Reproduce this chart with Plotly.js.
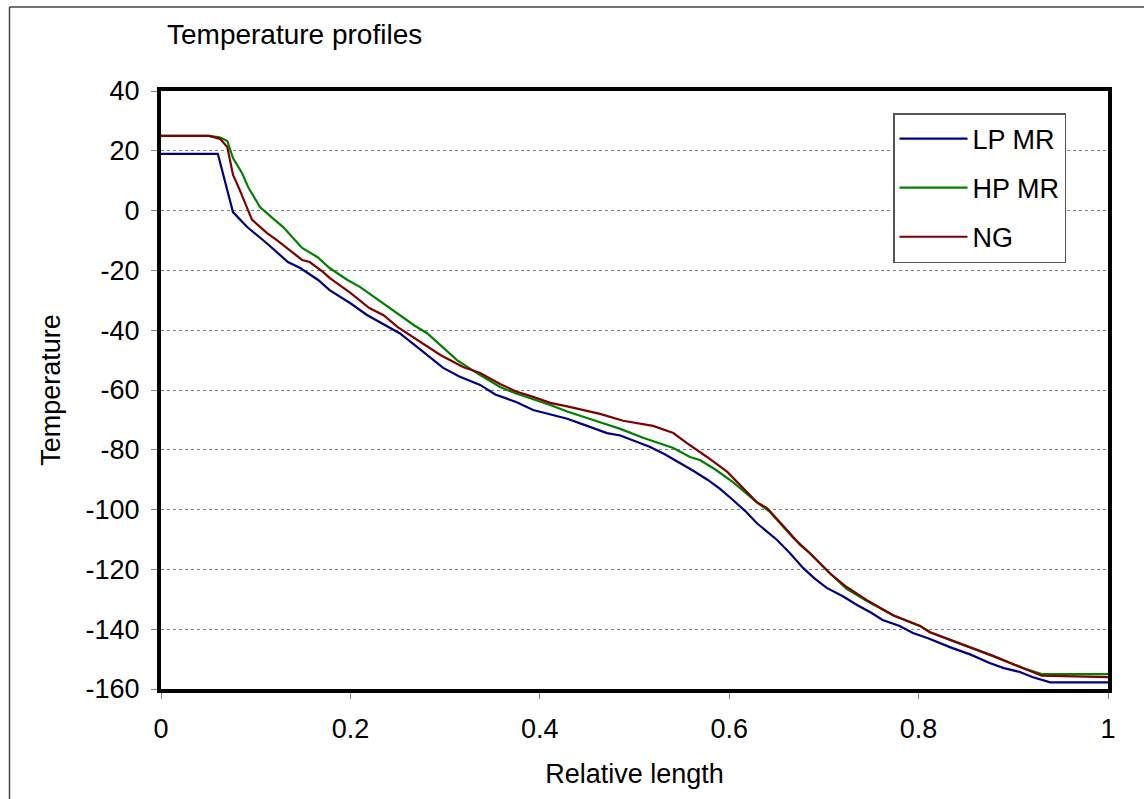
<!DOCTYPE html>
<html>
<head>
<meta charset="utf-8">
<script src="https://cdn.plot.ly/plotly-3.0.1.min.js"></script>
<style>html,body{margin:0;padding:0;background:#fff;}#chart{width:1144px;height:799px;}</style>
</head>
<body>
<div id="chart"></div>
<script>
// ---- data ----
const lpmrX = [0, 0.06, 0.076, 0.091, 0.112, 0.134, 0.147, 0.166, 0.178, 0.2, 0.2175, 0.235, 0.252, 0.268, 0.284, 0.298, 0.315, 0.337, 0.353, 0.375, 0.393, 0.414, 0.429, 0.45, 0.471, 0.485, 0.5, 0.516, 0.532, 0.548, 0.562, 0.577, 0.59, 0.604, 0.617, 0.629, 0.65, 0.664, 0.678, 0.69, 0.703, 0.72, 0.735, 0.75, 0.762, 0.78, 0.794, 0.81, 0.833, 0.855, 0.875, 0.89, 0.907, 0.92, 0.939, 1.0];
const lpmrY = [19, 19, -0.5, -5.5, -11, -17.2, -19.2, -23.2, -26.6, -31, -34.9, -38, -41, -45, -49, -52.6, -55.5, -58.3, -61.5, -64, -66.7, -68.5, -69.6, -72, -74.4, -75.2, -77, -79, -81.5, -84.4, -87, -90, -93, -96.8, -100.5, -104.5, -110, -114.5, -119.5, -123, -126.2, -129, -131.9, -134.5, -136.9, -138.9, -141.3, -143, -146, -148.5, -151.3, -153, -154.3, -156, -157.8, -157.8];

const hpmrX = [0, 0.05, 0.062, 0.07, 0.076, 0.0855, 0.092, 0.1045, 0.116, 0.129, 0.149, 0.165, 0.178, 0.197, 0.21, 0.23, 0.252, 0.268, 0.281, 0.297, 0.3126, 0.337, 0.358, 0.375, 0.393, 0.411, 0.429, 0.456, 0.4636, 0.485, 0.509, 0.541, 0.5586, 0.569, 0.585, 0.604, 0.629, 0.643, 0.667, 0.685, 0.706, 0.724, 0.745, 0.773, 0.8015, 0.812, 0.8405, 0.879, 0.91, 0.93, 1.0];
const hpmrY = [25, 25, 24.5, 23.3, 17.6, 12.6, 7.9, 1.2, -2, -5.5, -12.5, -15.5, -19.2, -23.2, -25.5, -30, -34.9, -38.5, -41, -45.5, -50, -55, -59, -61.2, -63, -65, -67.2, -70.2, -70.8, -73, -76, -79.4, -82.4, -83.4, -86.5, -90.8, -97.5, -100.8, -109.2, -114.5, -121.2, -126.5, -130.5, -135.3, -138.9, -141, -144.3, -149, -153, -155, -155];

const ngX = [0, 0.051, 0.0623, 0.07, 0.076, 0.083, 0.096, 0.112, 0.122, 0.135, 0.149, 0.157, 0.171, 0.178, 0.2, 0.22, 0.235, 0.25, 0.266, 0.28, 0.295, 0.319, 0.337, 0.358, 0.375, 0.393, 0.411, 0.429, 0.446, 0.4636, 0.488, 0.5196, 0.541, 0.555, 0.5766, 0.598, 0.629, 0.64, 0.661, 0.675, 0.685, 0.706, 0.724, 0.745, 0.773, 0.8015, 0.812, 0.8405, 0.879, 0.91, 0.93, 1.0];
const ngY = [25, 25, 24, 21.3, 12, 7, -3, -7.5, -9.8, -13, -16.5, -17.2, -20.5, -22.5, -27.5, -32.6, -35, -39, -42.3, -45, -48.3, -52.3, -54.3, -58, -60.5, -62.3, -64.3, -65.5, -66.8, -68, -70.3, -72, -74.4, -77.7, -82.4, -87.4, -97.5, -99.5, -106.8, -111.8, -114.5, -121.2, -125.9, -130.2, -135.3, -138.9, -141, -144.3, -149, -153, -155.5, -156];

const seriesNames = ["LP MR", "HP MR", "NG"];
const seriesColors = ["#000080", "#008000", "#800000"];
const xTicks = [0, 0.2, 0.4, 0.6, 0.8, 1];
const xTickText = ["0", "0.2", "0.4", "0.6", "0.8", "1"];
const yTicks = [-160, -140, -120, -100, -80, -60, -40, -20, 0, 20, 40];
const yTickText = ["-160", "-140", "-120", "-100", "-80", "-60", "-40", "-20", "0", "20", "40"];

const FONT = "Liberation Sans, Arial, sans-serif";

const xs = [lpmrX, hpmrX, ngX];
const ys = [lpmrY, hpmrY, ngY];
const traces = seriesNames.map((n, i) => ({
  x: xs[i], y: ys[i], name: n, type: "scatter", mode: "lines",
  line: {color: seriesColors[i], width: 2.2},
  legendgroup: "g" + i
}));

const layout = {
  width: 1144, height: 799,
  margin: {l: 161, r: 36, t: 91, b: 110},
  paper_bgcolor: "#ffffff", plot_bgcolor: "#ffffff",
  font: {family: FONT, size: 27, color: "#000"},
  title: {text: "Temperature profiles", font: {family: FONT, size: 28, color: "#000"},
          xref: "container", yref: "container", x: 167/1144, xanchor: "left", y: 1 - 34/799, yanchor: "middle"},
  xaxis: {
    range: [0, 1], tickvals: xTicks, ticktext: xTickText,
    showline: true, mirror: true, linecolor: "#000", linewidth: 4,
    ticks: "outside", ticklen: 6, tickcolor: "#808080", tickwidth: 1,
    ticklabelstandoff: 7,
    showgrid: false, zeroline: false,
    tickfont: {family: FONT, size: 27, color: "#000"},
    title: {text: "Relative length", font: {family: FONT, size: 27, color: "#000"}, standoff: 22}
  },
  yaxis: {
    range: [-160, 40], tickvals: yTicks, ticktext: yTickText,
    showline: true, mirror: true, linecolor: "#000", linewidth: 4,
    ticks: "outside", ticklen: 6, tickcolor: "#808080", tickwidth: 1,
    ticklabelstandoff: 6,
    showgrid: true, gridcolor: "#808080", griddash: "dot", gridwidth: 1,
    zeroline: false,
    tickfont: {family: FONT, size: 27, color: "#000"},
    title: {text: "Temperature", font: {family: FONT, size: 27, color: "#000"}, standoff: 18}
  },
  legend: {
    x: (893 - 161) / 947, y: 1 - (113 - 91) / 598, xanchor: "left", yanchor: "top",
    bgcolor: "#ffffff", bordercolor: "#555555", borderwidth: 1.5,
    font: {family: FONT, size: 27, color: "#000"},
    traceorder: "grouped", tracegroupgap: 11, itemwidth: 68
  },
  shapes: [
    {type: "line", xref: "paper", yref: "paper", x0: (9.5 - 161) / 947, x1: 1.2, y0: (689 - 7) / 598, y1: (689 - 7) / 598, line: {color: "#444", width: 1.5}},
    {type: "line", xref: "paper", yref: "paper", x0: (9.5 - 161) / 947, x1: (9.5 - 161) / 947, y0: -0.3, y1: (689 - 7) / 598, line: {color: "#444", width: 1.5}}
  ],
  showlegend: true
};

Plotly.newPlot("chart", traces, layout, {displayModeBar: false, staticPlot: true});
</script>
</body>
</html>
